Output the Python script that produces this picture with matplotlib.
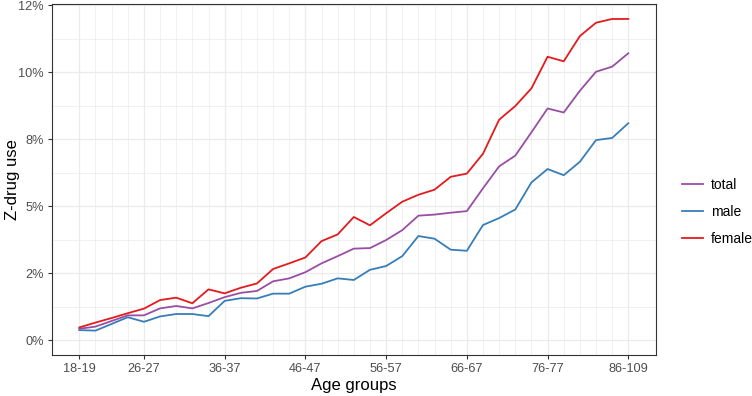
import matplotlib

matplotlib.use("Agg")
import matplotlib.pyplot as plt
from matplotlib.ticker import FixedLocator, MultipleLocator

# age groups: 18-19 ... 84-85 in two-year steps, then 86-109
age_groups = [f"{a}-{a + 1}" for a in range(18, 86, 2)] + ["86-109"]
tick_groups = ["18-19", "26-27", "36-37", "46-47", "56-57", "66-67", "76-77", "86-109"]

# Z-drug use in percent
total = [0.42, 0.50, 0.71, 0.92, 0.92, 1.18, 1.27, 1.18, 1.38, 1.60, 1.76, 1.83, 2.19, 2.30,
         2.53, 2.86, 3.13, 3.41, 3.43, 3.73, 4.10, 4.64, 4.68, 4.75, 4.81, 5.66, 6.48, 6.88,
         7.75, 8.64, 8.49, 9.30, 10.01, 10.20, 10.70]
male = [0.37, 0.35, 0.60, 0.85, 0.68, 0.88, 0.97, 0.97, 0.89, 1.46, 1.56, 1.55, 1.73, 1.73,
        1.99, 2.10, 2.30, 2.24, 2.62, 2.76, 3.13, 3.88, 3.78, 3.37, 3.33, 4.29, 4.55, 4.87,
        5.88, 6.38, 6.15, 6.65, 7.46, 7.54, 8.09]
female = [0.47, 0.65, 0.82, 1.00, 1.17, 1.49, 1.58, 1.37, 1.89, 1.74, 1.95, 2.11, 2.65, 2.86,
          3.08, 3.69, 3.94, 4.59, 4.28, 4.73, 5.16, 5.42, 5.61, 6.09, 6.21, 6.95, 8.22, 8.73,
          9.39, 10.57, 10.40, 11.34, 11.84, 11.98, 11.98]

series = [("total", total, "#984EA3"), ("male", male, "#377EB8"), ("female", female, "#E41A1C")]

plt.rcParams["font.family"] = ["Liberation Sans", "DejaVu Sans"]

fig = plt.figure(figsize=(7.52, 3.96), dpi=100)
ax = fig.add_axes([0.069, 0.1035, 0.803, 0.8865])

x = list(range(len(age_groups)))
for name, vals, color in series:
    ax.plot(x, vals, color=color, linewidth=1.3, label=name)

ax.set_xlim(-1.7, len(age_groups) - 1 + 1.7)
ax.set_ylim(-0.56, 12.54)

ax.set_xticks([age_groups.index(g) for g in tick_groups])
ax.set_xticklabels(tick_groups)
ax.xaxis.set_minor_locator(FixedLocator(x))
ax.yaxis.set_minor_locator(MultipleLocator(1.25))
ax.set_yticks([0, 2.5, 5, 7.5, 10, 12.5])
ax.set_yticklabels(["0%", "2%", "5%", "8%", "10%", "12%"])

ax.grid(which="major", color="#EBEBEB", linewidth=0.9)
ax.grid(which="minor", color="#EBEBEB", linewidth=0.5)
ax.set_axisbelow(True)

for s in ax.spines.values():
    s.set_color("#333333")
    s.set_linewidth(0.8)
ax.tick_params(which="major", length=3, width=0.8, color="#333333",
               labelsize=9.2, labelcolor="#4D4D4D", pad=3)
ax.tick_params(which="minor", length=0)

ax.set_xlabel("Age groups", fontsize=12, labelpad=2)
ax.set_ylabel("Z-drug use", fontsize=12, va="center")
ax.yaxis.set_label_coords(-0.066, 0.5)

fig.legend(loc="center left", bbox_to_anchor=(0.89, 0.465), frameon=False,
           fontsize=10, handlelength=1.5, labelspacing=0.95, handletextpad=0.6)

fig.savefig("out.png", dpi=100)
